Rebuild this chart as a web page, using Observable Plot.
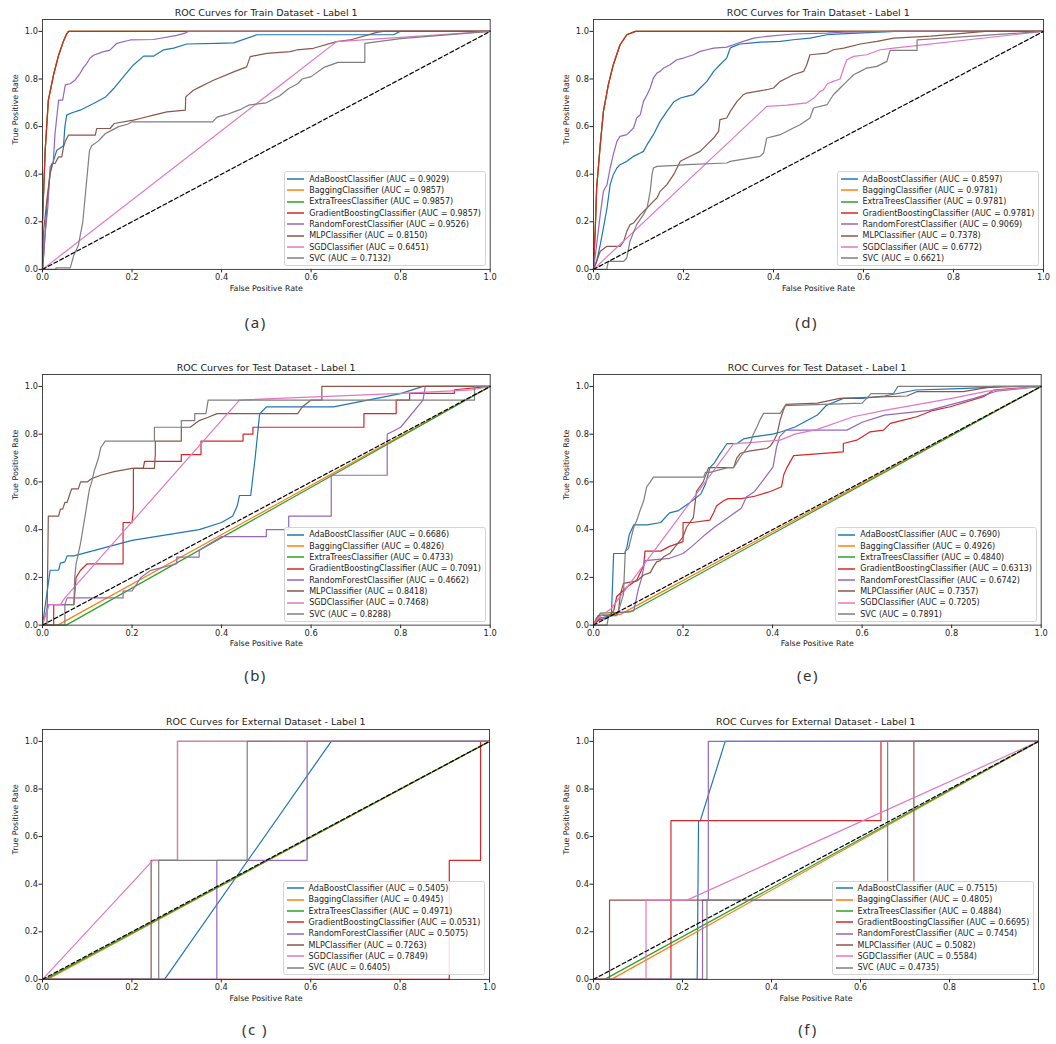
<!DOCTYPE html>
<html><head><meta charset="utf-8">
<script src="https://cdn.jsdelivr.net/npm/d3@7"></script>
<script src="https://cdn.jsdelivr.net/npm/@observablehq/plot@0.6"></script>
<style>
html,body{margin:0;padding:0;background:#fff}
#root{position:relative;width:1056px;height:1044px;overflow:hidden;background:#fff;font-family:"DejaVu Sans",sans-serif;color:#222}
.title{position:absolute;transform:translate(-50%,-50%);white-space:nowrap;font-size:9.5px;color:#1a1a1a}
.caption{position:absolute;transform:translate(-50%,-50%);white-space:nowrap;font-family:"Noto Sans",sans-serif;font-size:15px;letter-spacing:1.5px;color:#333}
.legend{position:absolute;background:rgba(255,255,255,0.85);border:1px solid #d4d4d4;border-radius:2.5px;padding:1px 4px 1px 2.5px;font-size:8px;color:#222}
.row{height:11.33px;display:flex;align-items:center;white-space:nowrap}
.swatch{width:17px;height:4px;margin-right:5px;flex:none;display:block}
</style></head>
<body><div id="root"></div>
<script>
// ---------- DATA ----------
const classifiers = ["AdaBoostClassifier","BaggingClassifier","ExtraTreesClassifier","GradientBoostingClassifier","RandomForestClassifier","MLPClassifier","SGDClassifier","SVC"];
const titles = ["ROC Curves for Train Dataset - Label 1","ROC Curves for Test Dataset - Label 1","ROC Curves for External Dataset - Label 1"];
const captions = ["(a)","(d)","(b)","(e)","(c )","(f)"];
const axisTicks = [0,0.2,0.4,0.6,0.8,1.0];
const xLabel = "False Positive Rate";
const yLabel = "True Positive Rate";
const chanceLine = [[0,0],[1,1]];

const aucA = [0.9029,0.9857,0.9857,0.9857,0.9526,0.8150,0.6451,0.7132];
const aucD = [0.8597,0.9781,0.9781,0.9781,0.9069,0.7378,0.6772,0.6621];
const aucB = [0.6686,0.4826,0.4733,0.7091,0.4662,0.8418,0.7468,0.8288];
const aucE = [0.7690,0.4926,0.4840,0.6313,0.6742,0.7357,0.7205,0.7891];
const aucC = [0.5405,0.4945,0.4971,0.0531,0.5075,0.7263,0.7849,0.6405];
const aucF = [0.7515,0.4805,0.4884,0.6695,0.7454,0.5082,0.5584,0.4735];

// (a) Train, left
const a_ada = [[0,0],[0.003,0.07],[0.0097,0.263],[0.017,0.403],[0.025,0.459],[0.032,0.501],[0.047,0.52],[0.05,0.6],[0.054,0.648],[0.066,0.658],[0.084,0.669],[0.114,0.697],[0.14,0.723],[0.159,0.76],[0.181,0.81],[0.203,0.859],[0.226,0.896],[0.248,0.896],[0.27,0.922],[0.293,0.93],[0.322,0.947],[0.389,0.95],[0.427,0.952],[0.479,0.986],[0.784,0.986],[0.799,1],[1,1]];
const a_gb = [[0,0],[0,0.2],[0.006,0.5],[0.013,0.71],[0.025,0.82],[0.036,0.9],[0.047,0.96],[0.054,0.99],[0.058,1],[1,1]];
const a_bag = a_gb;
const a_et = a_gb;
const a_rf = [[0,0],[0.003,0.07],[0.006,0.15],[0.012,0.263],[0.017,0.431],[0.024,0.45],[0.028,0.571],[0.032,0.641],[0.036,0.711],[0.045,0.711],[0.051,0.775],[0.062,0.78],[0.073,0.796],[0.084,0.824],[0.092,0.85],[0.099,0.866],[0.106,0.887],[0.114,0.9],[0.136,0.915],[0.15,0.92],[0.166,0.95],[0.196,0.964],[0.248,0.966],[0.3,0.983],[0.32,0.994],[0.326,1],[1,1]];
const a_mlp = [[0,0],[0.002,0.151],[0.0097,0.291],[0.017,0.403],[0.021,0.445],[0.028,0.445],[0.036,0.473],[0.043,0.473],[0.047,0.515],[0.052,0.543],[0.058,0.564],[0.118,0.564],[0.121,0.592],[0.151,0.592],[0.16,0.613],[0.203,0.627],[0.218,0.634],[0.248,0.648],[0.278,0.662],[0.319,0.669],[0.32,0.725],[0.337,0.753],[0.352,0.767],[0.367,0.781],[0.382,0.795],[0.427,0.83],[0.456,0.851],[0.464,0.894],[0.501,0.908],[0.553,0.915],[0.568,0.922],[0.605,0.929],[0.657,0.957],[0.687,0.964],[0.747,0.996],[0.76,1],[1,1]];
const a_sgd = [[0,0],[0.657,0.957],[1,1]];
const a_svc = [[0,0],[0.03,0],[0.03,0.006],[0.062,0.006],[0.07,0.06],[0.08,0.1],[0.09,0.2],[0.095,0.3],[0.1,0.4],[0.105,0.5],[0.11,0.52],[0.125,0.54],[0.13,0.55],[0.14,0.57],[0.15,0.58],[0.17,0.6],[0.19,0.61],[0.2,0.62],[0.38,0.62],[0.39,0.64],[0.41,0.65],[0.44,0.67],[0.46,0.69],[0.5,0.7],[0.52,0.72],[0.53,0.73],[0.55,0.76],[0.57,0.78],[0.58,0.8],[0.6,0.81],[0.63,0.85],[0.66,0.87],[0.72,0.87],[0.72,0.95],[0.8,0.97],[1,1]];

// (d) Train, right
const d_ada = [[0,0],[0.007,0.034],[0.015,0.104],[0.022,0.174],[0.03,0.258],[0.037,0.356],[0.044,0.398],[0.052,0.426],[0.059,0.44],[0.074,0.454],[0.089,0.475],[0.104,0.489],[0.111,0.496],[0.119,0.524],[0.133,0.566],[0.148,0.622],[0.163,0.664],[0.178,0.703],[0.193,0.72],[0.207,0.727],[0.222,0.734],[0.237,0.762],[0.252,0.79],[0.267,0.832],[0.281,0.86],[0.296,0.888],[0.304,0.93],[0.311,0.937],[0.326,0.947],[0.348,0.951],[0.37,0.955],[0.415,0.958],[0.444,0.965],[0.481,0.972],[0.519,0.986],[0.55,0.99],[0.67,1],[1,1]];
const d_gb = [[0,0],[0.004,0.174],[0.007,0.342],[0.015,0.524],[0.022,0.664],[0.033,0.776],[0.044,0.86],[0.059,0.944],[0.074,0.986],[0.093,1],[1,1]];
const d_bag = d_gb;
const d_et = d_gb;
const d_rf = [[0,0],[0.007,0.104],[0.015,0.23],[0.022,0.328],[0.03,0.356],[0.037,0.426],[0.044,0.482],[0.052,0.538],[0.059,0.559],[0.074,0.566],[0.089,0.594],[0.096,0.636],[0.104,0.65],[0.111,0.706],[0.119,0.734],[0.126,0.762],[0.133,0.804],[0.141,0.825],[0.148,0.832],[0.156,0.846],[0.17,0.86],[0.185,0.881],[0.2,0.888],[0.222,0.902],[0.237,0.916],[0.252,0.923],[0.267,0.93],[0.296,0.934],[0.311,0.944],[0.333,0.958],[0.356,0.972],[0.385,0.979],[0.444,0.989],[0.519,0.993],[0.556,0.997],[0.667,1],[1,1]];
const d_mlp = [[0,0],[0.007,0.034],[0.015,0.076],[0.03,0.097],[0.059,0.097],[0.067,0.118],[0.074,0.16],[0.081,0.188],[0.089,0.195],[0.104,0.23],[0.119,0.258],[0.133,0.286],[0.141,0.3],[0.148,0.328],[0.163,0.356],[0.178,0.398],[0.193,0.454],[0.207,0.468],[0.222,0.482],[0.237,0.496],[0.252,0.524],[0.267,0.552],[0.278,0.58],[0.281,0.629],[0.296,0.636],[0.304,0.664],[0.319,0.706],[0.326,0.72],[0.333,0.734],[0.341,0.741],[0.363,0.748],[0.385,0.755],[0.4,0.762],[0.415,0.79],[0.43,0.804],[0.444,0.818],[0.467,0.832],[0.474,0.86],[0.481,0.902],[0.519,0.909],[0.533,0.923],[0.556,0.93],[0.593,0.947],[0.63,0.958],[0.667,0.972],[0.75,0.98],[0.87,1],[1,1]];
const d_sgd = [[0,0],[0.385,0.685],[0.43,0.69],[0.474,0.7],[0.49,0.72],[0.504,0.748],[0.511,0.755],[0.52,0.78],[0.533,0.79],[0.548,0.8],[0.556,0.846],[0.563,0.881],[0.578,0.895],[0.607,0.902],[0.637,0.923],[0.667,0.93],[1,1]];
const d_svc = [[0,0],[0.03,0],[0.03,0.006],[0.033,0.034],[0.067,0.034],[0.074,0.048],[0.081,0.118],[0.096,0.188],[0.111,0.23],[0.119,0.258],[0.126,0.328],[0.13,0.398],[0.133,0.426],[0.141,0.433],[0.185,0.437],[0.207,0.44],[0.296,0.447],[0.304,0.454],[0.37,0.475],[0.378,0.489],[0.385,0.552],[0.4,0.559],[0.415,0.566],[0.444,0.594],[0.459,0.608],[0.481,0.636],[0.489,0.678],[0.519,0.692],[0.533,0.734],[0.548,0.762],[0.563,0.79],[0.578,0.818],[0.593,0.832],[0.607,0.846],[0.63,0.853],[0.652,0.874],[0.659,0.92],[0.719,0.92],[0.719,0.964],[1,1]];

// (b) Test, left
const b_ada = [[0,0],[0.017,0.23],[0.036,0.23],[0.04,0.26],[0.05,0.265],[0.055,0.29],[0.07,0.29],[0.2,0.355],[0.35,0.4],[0.4,0.43],[0.425,0.457],[0.435,0.5],[0.44,0.543],[0.465,0.543],[0.475,0.7],[0.485,0.885],[0.5,0.914],[0.65,0.914],[0.8,0.97],[0.85,1],[1,1]];
const b_bag = [[0,0],[0.034,0],[1,1]];
const b_et = [[0,0],[0.053,0],[1,1]];
const b_gb = [[0,0],[0.025,0],[0.025,0.086],[0.07,0.086],[0.075,0.2],[0.085,0.23],[0.1,0.257],[0.18,0.257],[0.18,0.43],[0.2,0.43],[0.203,0.486],[0.203,0.657],[0.225,0.657],[0.228,0.686],[0.31,0.686],[0.31,0.714],[0.354,0.714],[0.354,0.771],[0.448,0.771],[0.448,0.8],[0.47,0.8],[0.47,0.829],[0.718,0.829],[0.718,0.886],[0.79,0.886],[0.79,0.943],[0.82,0.943],[0.82,0.971],[0.92,0.971],[0.92,0.986],[1,1]];
const b_rf = [[0,0],[0.013,0.086],[0.05,0.086],[0.055,0.114],[0.18,0.114],[0.18,0.143],[0.2,0.143],[0.22,0.2],[0.24,0.228],[0.3,0.257],[0.3,0.285],[0.35,0.285],[0.35,0.314],[0.4,0.371],[0.5,0.371],[0.5,0.4],[0.55,0.4],[0.55,0.457],[0.645,0.457],[0.645,0.628],[0.77,0.628],[0.77,0.8],[0.8,0.829],[0.85,0.943],[0.855,1],[1,1]];
const b_mlp = [[0,0],[0.01,0],[0.013,0.457],[0.036,0.457],[0.04,0.486],[0.045,0.486],[0.05,0.514],[0.055,0.514],[0.06,0.543],[0.065,0.571],[0.08,0.571],[0.085,0.6],[0.1,0.6],[0.11,0.614],[0.13,0.628],[0.16,0.643],[0.2,0.657],[0.25,0.657],[0.252,0.714],[0.252,0.771],[0.31,0.771],[0.31,0.829],[0.33,0.829],[0.35,0.857],[0.37,0.871],[0.39,0.886],[0.57,0.886],[0.58,0.914],[0.6,0.943],[0.624,0.943],[0.624,1],[1,1]];
const b_sgd = [[0,0],[0.015,0.086],[0.04,0.086],[0.05,0.114],[0.44,0.943],[0.8,0.971],[0.96,0.986],[1,1]];
const b_svc = [[0,0],[0.05,0],[0.05,0.086],[0.07,0.086],[0.072,0.2],[0.075,0.257],[0.08,0.3],[0.085,0.343],[0.09,0.4],[0.095,0.457],[0.1,0.514],[0.105,0.571],[0.11,0.6],[0.115,0.643],[0.12,0.671],[0.125,0.7],[0.13,0.743],[0.14,0.771],[0.25,0.771],[0.25,0.829],[0.31,0.829],[0.31,0.857],[0.34,0.857],[0.34,0.886],[0.365,0.886],[0.37,0.943],[0.965,0.943],[0.965,1],[1,1]];

// (e) Test, right
const e_ada = [[0,0],[0.015,0.03],[0.04,0.04],[0.045,0.3],[0.07,0.3],[0.075,0.33],[0.08,0.38],[0.09,0.42],[0.12,0.42],[0.15,0.43],[0.17,0.47],[0.19,0.48],[0.22,0.52],[0.24,0.55],[0.25,0.59],[0.26,0.66],[0.27,0.68],[0.28,0.71],[0.298,0.76],[0.32,0.76],[0.335,0.78],[0.36,0.79],[0.4,0.8],[0.42,0.81],[0.45,0.83],[0.47,0.85],[0.5,0.88],[0.52,0.92],[0.558,0.95],[0.6,0.95],[0.65,0.96],[0.72,0.985],[0.8,0.99],[0.95,1],[1,1]];
const e_bag = [[0,0],[0.01,0.04],[0.06,0.045],[1,1]];
const e_et = [[0,0],[0.015,0.05],[0.082,0.055],[1,1]];
const e_gb = [[0,0],[0.01,0.02],[0.03,0.03],[0.045,0.06],[0.052,0.12],[0.075,0.16],[0.097,0.19],[0.112,0.25],[0.115,0.31],[0.15,0.31],[0.17,0.33],[0.2,0.35],[0.2,0.43],[0.22,0.43],[0.26,0.44],[0.268,0.47],[0.275,0.5],[0.29,0.52],[0.3,0.53],[0.33,0.53],[0.36,0.54],[0.395,0.56],[0.42,0.58],[0.425,0.63],[0.432,0.66],[0.447,0.71],[0.558,0.726],[0.558,0.761],[0.588,0.775],[0.618,0.81],[0.648,0.817],[0.663,0.845],[0.692,0.859],[0.722,0.873],[0.759,0.9],[0.797,0.915],[0.834,0.936],[0.871,0.957],[0.894,0.985],[1,1]];
const e_rf = [[0,0],[0.007,0.03],[0.03,0.03],[0.05,0.05],[0.09,0.06],[0.1,0.15],[0.108,0.2],[0.115,0.27],[0.17,0.28],[0.2,0.3],[0.22,0.33],[0.25,0.38],[0.27,0.41],[0.3,0.45],[0.33,0.49],[0.342,0.538],[0.36,0.56],[0.38,0.61],[0.401,0.663],[0.409,0.747],[0.416,0.79],[0.43,0.817],[0.566,0.817],[0.6,0.85],[0.65,0.88],[0.75,0.9],[0.85,0.95],[0.9,0.98],[1,1]];
const e_mlp = [[0,0],[0.007,0.03],[0.015,0.042],[0.037,0.042],[0.052,0.05],[0.056,0.06],[0.06,0.13],[0.067,0.175],[0.082,0.18],[0.097,0.185],[0.112,0.21],[0.127,0.22],[0.134,0.245],[0.141,0.265],[0.149,0.27],[0.156,0.285],[0.17,0.3],[0.179,0.32],[0.194,0.356],[0.2,0.37],[0.208,0.41],[0.223,0.45],[0.23,0.56],[0.245,0.6],[0.257,0.66],[0.313,0.66],[0.32,0.7],[0.328,0.72],[0.35,0.73],[0.387,0.74],[0.395,0.75],[0.402,0.77],[0.41,0.8],[0.417,0.86],[0.424,0.9],[0.43,0.925],[0.5,0.93],[0.55,0.95],[0.7,0.96],[0.722,0.978],[0.826,0.978],[0.894,1],[1,1]];
const e_sgd = [[0,0],[0.01,0.03],[0.04,0.07],[0.06,0.12],[0.313,0.76],[0.35,0.765],[0.417,0.775],[0.45,0.8],[0.5,0.82],[0.58,0.873],[0.65,0.9],[0.8,0.95],[0.88,0.98],[1,1]];
const e_svc = [[0,0],[0.03,0],[0.034,0.04],[0.052,0.04],[0.056,0.06],[0.067,0.13],[0.071,0.31],[0.078,0.32],[0.082,0.35],[0.086,0.38],[0.09,0.41],[0.097,0.44],[0.104,0.48],[0.112,0.52],[0.119,0.58],[0.127,0.6],[0.134,0.62],[0.246,0.62],[0.25,0.64],[0.26,0.64],[0.3,0.66],[0.313,0.66],[0.328,0.705],[0.35,0.76],[0.357,0.8],[0.365,0.83],[0.372,0.86],[0.38,0.887],[0.417,0.887],[0.428,0.92],[0.6,0.93],[0.62,0.97],[0.67,0.97],[0.68,1],[1,1]];

// (c) External, left
const c_ada = [[0,0],[0.273,0],[0.646,1],[1,1]];
const c_bag = [[0,0],[0.011,0],[1,1]];
const c_et = [[0,0],[0.006,0],[1,1]];
const c_gb = [[0,0],[0.91,0],[0.91,0.5],[0.98,0.5],[0.98,1],[1,1]];
const c_rf = [[0,0],[0.39,0],[0.39,0.5],[0.592,0.5],[0.592,1],[1,1]];
const c_mlp = [[0,0],[0.243,0],[0.243,0.5],[0.302,0.5],[0.302,1],[1,1]];
const c_sgd = [[0,0],[0.247,0.5],[0.302,0.5],[0.302,1],[1,1]];
const c_svc = [[0,0],[0.26,0],[0.26,0.5],[0.458,0.5],[0.458,1],[1,1]];

// (f) External, right
const f_ada = [[0,0],[0.233,0],[0.236,0.667],[0.24,0.667],[0.296,1],[1,1]];
const f_bag = [[0,0],[0.04,0],[1,1]];
const f_et = [[0,0],[0.025,0],[1,1]];
const f_gb = [[0,0],[0.174,0],[0.174,0.667],[0.646,0.667],[0.646,1],[1,1]];
const f_rf = [[0,0],[0.245,0],[0.245,0.333],[0.258,0.333],[0.258,1],[1,1]];
const f_mlp = [[0,0],[0.036,0],[0.036,0.333],[0.72,0.333],[0.72,1],[1,1]];
const f_sgd = [[0,0],[0.118,0],[0.118,0.333],[0.21,0.333],[1,1]];
const f_svc = [[0,0],[0.255,0],[0.255,0.333],[0.661,0.333],[0.661,1],[1,1]];

// ---------- STYLE / LAYOUT ----------
const COLORS = ["#1f77b4","#ff7f0e","#2ca02c","#d62728","#9467bd","#8c564b","#e377c2","#7f7f7f"];
const panels = [
  {title:titles[0], aucs:aucA, curves:[a_ada,a_bag,a_et,a_gb,a_rf,a_mlp,a_sgd,a_svc], cap:captions[0], L:42.3, R:490, B:269.3, U:238, ty:12.3, cx:255.7, cy:321.5},
  {title:titles[0], aucs:aucD, curves:[d_ada,d_bag,d_et,d_gb,d_rf,d_mlp,d_sgd,d_svc], cap:captions[1], L:593.3, R:1043.3, B:269.3, U:238, ty:12.3, cx:806.7, cy:321.7},
  {title:titles[1], aucs:aucB, curves:[b_ada,b_bag,b_et,b_gb,b_rf,b_mlp,b_sgd,b_svc], cap:captions[2], L:42.3, R:490, B:625, U:238.7, ty:366.7, cx:255.5, cy:675},
  {title:titles[1], aucs:aucE, curves:[e_ada,e_bag,e_et,e_gb,e_rf,e_mlp,e_sgd,e_svc], cap:captions[3], L:593.3, R:1041, B:625, U:238.7, ty:366.7, cx:808, cy:675},
  {title:titles[2], aucs:aucC, curves:[c_ada,c_bag,c_et,c_gb,c_rf,c_mlp,c_sgd,c_svc], cap:captions[4], L:42.3, R:489.3, B:978.7, U:238, ty:721, cx:255, cy:1029},
  {title:titles[2], aucs:aucF, curves:[f_ada,f_bag,f_et,f_gb,f_rf,f_mlp,f_sgd,f_svc], cap:captions[5], L:593.3, R:1038.3, B:978.7, U:238, ty:721, cx:808, cy:1029}
];

const root = document.getElementById("root");
const mL = 45, mR = 8, mT = 4, mB = 30;
const SVGNS = "http://www.w3.org/2000/svg";

for (const p of panels) {
  const plotW = p.R - p.L;
  const plotH = p.U * 1.05;
  const svg = Plot.plot({
    width: mL + plotW + mR,
    height: mT + plotH + mB,
    marginLeft: mL, marginRight: mR, marginTop: mT, marginBottom: mB,
    style: {fontFamily: "DejaVu Sans", fontSize: "8.3px", color: "#222", background: "transparent", overflow: "visible"},
    x: {domain: [0, 1]},
    y: {domain: [0, 1.05]},
    marks: [
      ...p.curves.map((c, i) => Plot.line(c, {x: d => d[0], y: d => d[1], stroke: COLORS[i], strokeWidth: 1.2})),
      Plot.line(chanceLine, {x: d => d[0], y: d => d[1], stroke: "#000", strokeWidth: 1.2, strokeDasharray: "4,2.5"}),
      Plot.axisX({ticks: axisTicks, tickFormat: d3.format(".1f"), tickSize: 3.5, tickPadding: 1, label: null}),
      Plot.axisY({ticks: axisTicks, tickFormat: d3.format(".1f"), tickSize: 3.5, tickPadding: 1, label: null}),
      Plot.frame({stroke: "#333", strokeWidth: 0.9}),
      Plot.text([xLabel], {text: d => d, frameAnchor: "bottom", lineAnchor: "middle", dy: 18.7, fontSize: 7.9}),
      Plot.text([yLabel], {text: d => d, frameAnchor: "left", rotate: -90, dx: -27, fontSize: 7.9})
    ]
  });
  svg.style.position = "absolute";
  svg.style.left = (p.L - mL) + "px";
  svg.style.top = (p.B - plotH - mT) + "px";
  root.appendChild(svg);

  const t = document.createElement("div");
  t.className = "title";
  t.textContent = p.title;
  t.style.left = ((p.L + p.R) / 2) + "px";
  t.style.top = p.ty + "px";
  root.appendChild(t);

  const lg = document.createElement("div");
  lg.className = "legend";
  lg.style.right = (1056 - p.R + 4) + "px";
  lg.style.bottom = (1044 - p.B + 3.3) + "px";
  classifiers.forEach((name, i) => {
    const row = document.createElement("div");
    row.className = "row";
    const sw = document.createElementNS(SVGNS, "svg");
    sw.setAttribute("class", "swatch");
    sw.setAttribute("width", "17");
    sw.setAttribute("height", "4");
    const ln = document.createElementNS(SVGNS, "line");
    ln.setAttribute("x1", "0"); ln.setAttribute("x2", "17");
    ln.setAttribute("y1", "2"); ln.setAttribute("y2", "2");
    ln.setAttribute("stroke", COLORS[i]);
    ln.setAttribute("stroke-width", "1.5");
    sw.appendChild(ln);
    const tx = document.createElement("span");
    tx.textContent = `${name} (AUC = ${p.aucs[i].toFixed(4)})`;
    row.appendChild(sw); row.appendChild(tx);
    lg.appendChild(row);
  });
  root.appendChild(lg);

  const cp = document.createElement("div");
  cp.className = "caption";
  cp.textContent = p.cap;
  cp.style.left = p.cx + "px";
  cp.style.top = p.cy + "px";
  root.appendChild(cp);
}
</script>
</body></html>
